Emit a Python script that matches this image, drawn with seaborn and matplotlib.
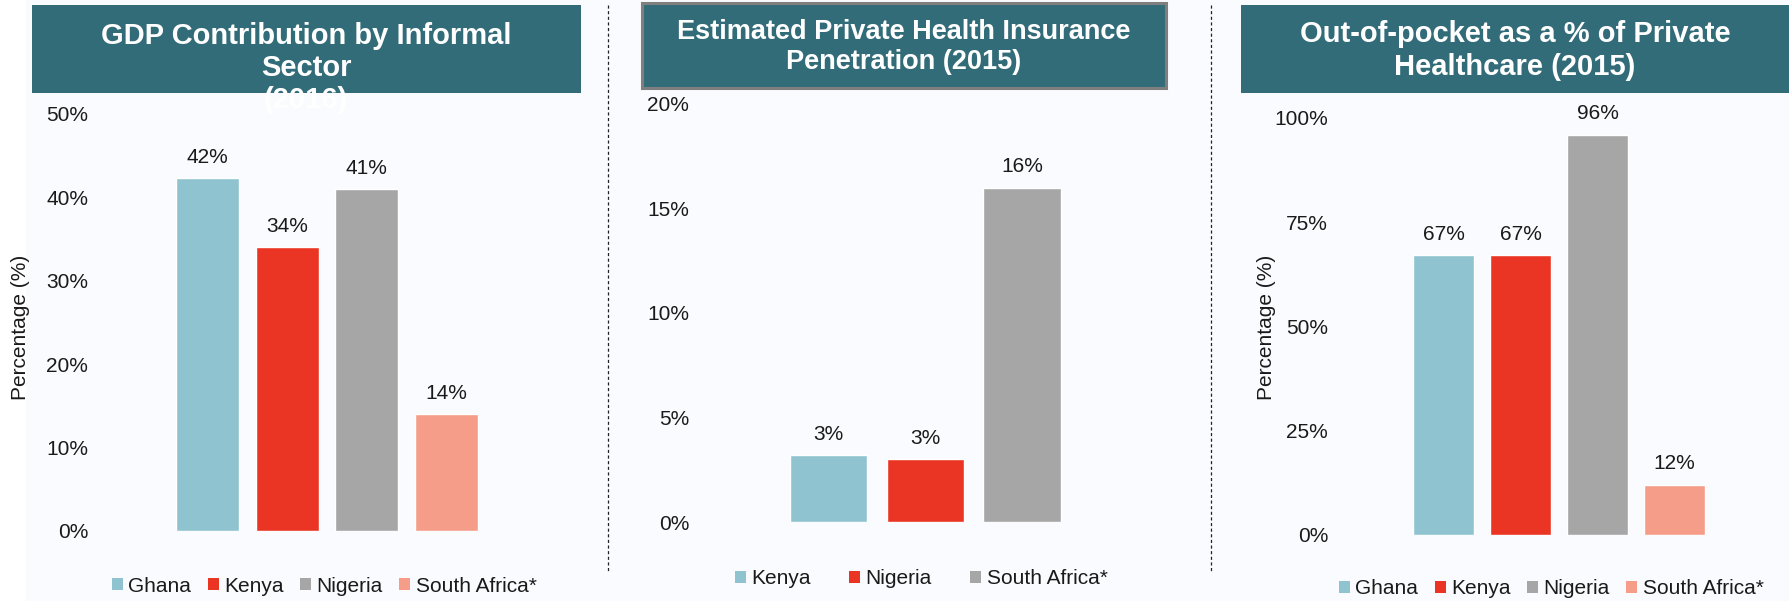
import matplotlib
matplotlib.use("Agg")
import matplotlib.pyplot as plt
from matplotlib.patches import Rectangle, Patch
from matplotlib.lines import Line2D
from matplotlib.ticker import FuncFormatter
import seaborn as sns

# ---- data -------------------------------------------------------------
gdp_countries = ["Ghana", "Kenya", "Nigeria", "South Africa*"]
gdp_values = [42.3, 34.0, 41.0, 14.0]          # % of GDP, 2016

ins_countries = ["Kenya", "Nigeria", "South Africa*"]
ins_values = [3.2, 3.0, 16.0]                  # % penetration, 2015

oop_countries = ["Ghana", "Kenya", "Nigeria", "South Africa*"]
oop_values = [67.0, 67.0, 96.0, 12.0]          # % of private healthcare, 2015

titles = [
    "GDP Contribution by Informal\nSector\n(2016)",
    "Estimated Private Health Insurance\nPenetration (2015)",
    "Out-of-pocket as a % of Private\nHealthcare (2015)",
]
ylabel = "Percentage (%)"

# ---- style ------------------------------------------------------------
sns.set_style("white")
plt.rcParams["font.family"] = ["Liberation Sans", "DejaVu Sans"]

BAR_COLORS = ["#8ec3cf", "#ea3524", "#a6a6a6", "#f59d88"]
BOX_COLOR = "#336c79"
TEXT_COLOR = "#1a1a1a"
BG = "#fafbfe"

W, H = 1789, 601
fig = plt.figure(figsize=(W / 100, H / 100), dpi=100, facecolor=BG)


def fx(x):
    return x / W


def fy(y):
    return 1 - y / H


def add_axes_px(left, right, top, bottom):
    return fig.add_axes([fx(left), fy(bottom), (right - left) / W, (bottom - top) / H])


# white strip at the far left
fig.add_artist(Rectangle((0, 0), fx(26), 1, transform=fig.transFigure,
                         facecolor="white", edgecolor="none", zorder=0))


def panel(ax, cats, vals, ylim, step, xlim, width, label_fmt="{:.0f}%"):
    sns.barplot(x=cats, y=vals, hue=cats, order=cats, hue_order=cats,
                palette=BAR_COLORS[:len(cats)], saturation=1, width=width,
                legend=False, ax=ax)
    ax.set_facecolor("none")
    ax.set_ylim(0, ylim)
    ax.set_xlim(*xlim)
    ax.set_yticks(range(0, ylim + 1, step))
    ax.yaxis.set_major_formatter(FuncFormatter(lambda v, p: f"{v:.0f}%"))
    ax.tick_params(axis="y", length=0, pad=5, labelsize=15, labelcolor=TEXT_COLOR)
    ax.set_xticks([])
    ax.set_xlabel("")
    ax.set_ylabel("")
    for s in ax.spines.values():
        s.set_visible(False)
    for p, v in zip(ax.patches, vals):
        ax.annotate(label_fmt.format(v), xy=(p.get_x() + p.get_width() / 2, p.get_height()),
                    xytext=(0, 11), textcoords="offset points",
                    ha="center", va="baseline", fontsize=15, color=TEXT_COLOR)


def legend(ax, cats, x_left, y_mid, colspace):
    handles = [Patch(facecolor=c, edgecolor="none") for c in BAR_COLORS[:len(cats)]]
    fig.legend(handles, cats, loc="center left", bbox_to_anchor=(fx(x_left), fy(y_mid)),
               bbox_transform=fig.transFigure, ncol=len(cats), frameon=False,
               fontsize=15, handlelength=0.53, handleheight=0.53, handletextpad=0.25,
               columnspacing=colspace, borderpad=0, borderaxespad=0,
               labelcolor=TEXT_COLOR)


def title_box(left, right, top, bottom, text, cx, cy, size, border=None):
    fig.add_artist(Rectangle((fx(left), fy(bottom)), (right - left) / W, (bottom - top) / H,
                             transform=fig.transFigure, facecolor=BOX_COLOR,
                             edgecolor=border if border else "none",
                             linewidth=2.2 if border else 0, zorder=1))
    fig.text(fx(cx), fy(cy), text, ha="center", va="center", fontsize=size,
             fontweight="bold", color="white", linespacing=1.2, zorder=2)


# ---- panel 1: GDP contribution by informal sector -----------------------
ax1 = add_axes_px(95, 500, 114, 531)
panel(ax1, gdp_countries, gdp_values, 50, 10,
      (-(207.5 - 95) / 79.7, 3 + (500 - 446.5) / 79.7), 0.79)
legend(ax1, gdp_countries, 112, 586, 0.8)
title_box(32, 581, 5, 93, titles[0], 306, 68, 21)
fig.text(fx(21), fy(327), ylabel, rotation=90, ha="center", va="center",
         fontsize=15, color=TEXT_COLOR)

# ---- panel 2: private health insurance penetration ----------------------
ax2 = add_axes_px(696, 1190, 104, 522)
panel(ax2, ins_countries, ins_values, 20, 5,
      (-(828.5 - 696) / 96.75, 2 + (1190 - 1022) / 96.75), 0.796)
legend(ax2, ins_countries, 735, 579, 1.85)
title_box(642, 1166, 3, 88, titles[1], 904, 47, 19.5, border="#7f7f7f")

# ---- panel 3: out-of-pocket share ---------------------------------------
ax3 = add_axes_px(1335, 1780, 118, 534.5)
panel(ax3, oop_countries, oop_values, 100, 25,
      (-(1443.5 - 1335) / 77, 3 + (1780 - 1674.5) / 77), 0.79)
legend(ax3, oop_countries, 1339, 589, 0.8)
title_box(1241, 1789, 5, 93, titles[2], 1515, 50.5, 21)
fig.text(fx(1267), fy(327), ylabel, rotation=90, ha="center", va="center",
         fontsize=15, color=TEXT_COLOR)

# ---- dashed separators ---------------------------------------------------
for xs in (608, 1211):
    fig.add_artist(Line2D([fx(xs), fx(xs)], [fy(5), fy(572)], transform=fig.transFigure,
                          color="#222222", linewidth=0.9, linestyle=(0, (2.5, 2))))

fig.savefig("out.png", dpi=100, facecolor=BG)
